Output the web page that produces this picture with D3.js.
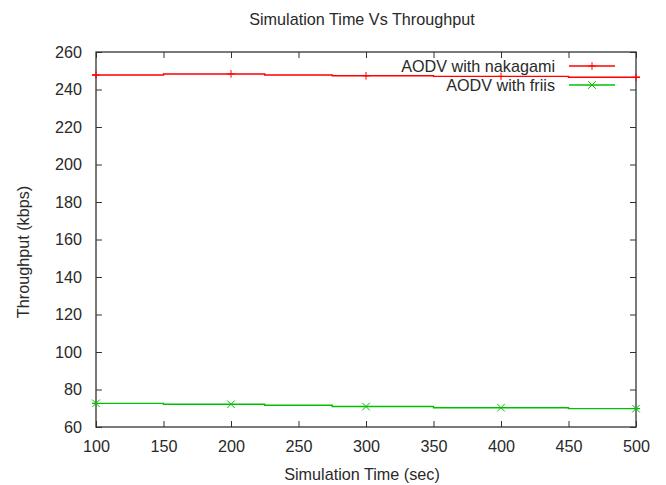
<!DOCTYPE html>
<html>
<head>
<meta charset="utf-8">
<script src="https://cdn.jsdelivr.net/npm/d3@7"></script>
<style>
  body { margin: 0; background: #fff; }
  text { font-family: "Liberation Sans", Arial, sans-serif; fill: #2a2a2a; }
</style>
</head>
<body>
<svg id="chart"></svg>
<script>
// data
const times = [100, 200, 250, 300, 400, 500];
const markerTimes = [100, 200, 300, 400, 500];
const nakagami = [247.7, 248.3, 247.7, 247.3, 247.0, 246.5];
const friis = [72.6, 72.1, 71.6, 70.9, 70.3, 69.8];
const xTicks = [100, 150, 200, 250, 300, 350, 400, 450, 500];
const yTicks = [60, 80, 100, 120, 140, 160, 180, 200, 220, 240, 260];
const seriesNames = ["AODV with nakagami", "AODV with friis"];
const seriesColors = ["#ff0000", "#00c000"];

const fontSize = "16.2px";

// canvas
const canvWidth = 666;
const canvHeight = 485;
const margin = { top: 52, right: 30, bottom: 58, left: 96 };
const width = canvWidth - margin.left - margin.right;
const height = canvHeight - margin.top - margin.bottom;

let svg = d3.select("#chart")
    .attr("width", canvWidth)
    .attr("height", canvHeight);

let g = svg.append("g")
    .attr("transform", "translate(" + margin.left + "," + margin.top + ")");

// scales
const x = d3.scaleLinear().domain([100, 500]).range([0, width]);
const y = d3.scaleLinear().domain([60, 260]).range([height, 0]);

// clip so the steps stop at the frame
svg.append("clipPath").attr("id", "clip")
    .append("rect").attr("x", -4).attr("y", 0).attr("width", width + 8).attr("height", height);

// axes with inward ticks, mirrored on top and right
function styleAxis(sel) {
    sel.select(".domain").remove();
    sel.selectAll("line").attr("stroke", "#333").attr("stroke-width", 1);
    sel.selectAll("text").style("font-size", fontSize).attr("fill", "#2a2a2a");
}
g.append("g").attr("transform", "translate(0," + height + ")")
    .call(d3.axisBottom(x).tickValues(xTicks).tickSizeInner(-6).tickPadding(13))
    .call(styleAxis);
g.append("g")
    .call(d3.axisLeft(y).tickValues(yTicks).tickSizeInner(-6).tickPadding(14))
    .call(styleAxis);
g.append("g")
    .call(d3.axisTop(x).tickValues(xTicks).tickSizeInner(-6).tickFormat(""))
    .call(styleAxis);
g.append("g").attr("transform", "translate(" + width + ",0)")
    .call(d3.axisRight(y).tickValues(yTicks).tickSizeInner(-6).tickFormat(""))
    .call(styleAxis);

// frame
g.append("rect")
    .attr("width", width).attr("height", height)
    .attr("fill", "none").attr("stroke", "#333").attr("stroke-width", 1.3);

// step lines (gnuplot histeps style)
const line = d3.line()
    .x(function (d) { return x(d[0]); })
    .y(function (d) { return y(d[1]); })
    .curve(d3.curveStep);

const allSeries = [nakagami, friis];
allSeries.forEach(function (vals, i) {
    const pts = times.map(function (t, j) { return [t, vals[j]]; });
    // extend half a step at both ends
    pts.unshift([times[0] - (times[1] - times[0]) / 2, vals[0]]);
    pts.push([times[times.length - 1] + (times[times.length - 1] - times[times.length - 2]) / 2, vals[vals.length - 1]]);
    g.append("path")
        .datum(pts)
        .attr("clip-path", "url(#clip)")
        .attr("fill", "none")
        .attr("stroke", seriesColors[i])
        .attr("stroke-width", 1.4)
        .attr("d", line);
});

// point markers
function marker(sel, type, cx, cy, color) {
    const s = 3.8;
    let p = type === 0
        ? "M" + (cx - s) + "," + cy + "H" + (cx + s) + "M" + cx + "," + (cy - s) + "V" + (cy + s)
        : "M" + (cx - s) + "," + (cy - s) + "L" + (cx + s) + "," + (cy + s) + "M" + (cx - s) + "," + (cy + s) + "L" + (cx + s) + "," + (cy - s);
    sel.append("path").attr("d", p).attr("stroke", color).attr("stroke-width", 1).attr("fill", "none");
}
allSeries.forEach(function (vals, i) {
    markerTimes.forEach(function (t) {
        const v = vals[times.indexOf(t)];
        marker(g, i, x(t), y(v), seriesColors[i]);
    });
});

// legend
seriesNames.forEach(function (name, i) {
    const ly = 66 + i * 19;
    svg.append("text")
        .attr("x", 555).attr("y", ly)
        .attr("dy", "0.35em")
        .attr("text-anchor", "end")
        .style("font-size", fontSize)
        .text(name);
    svg.append("line")
        .attr("x1", 569).attr("x2", 615).attr("y1", ly).attr("y2", ly)
        .attr("stroke", seriesColors[i]).attr("stroke-width", 1.4);
    marker(svg, i, 592, ly, seriesColors[i]);
});

// title and axis labels
svg.append("text")
    .attr("x", 362).attr("y", 19).attr("dy", "0.35em")
    .attr("text-anchor", "middle")
    .style("font-size", fontSize)
    .text("Simulation Time Vs Throughput");

svg.append("text")
    .attr("x", 362).attr("y", 474).attr("dy", "0.35em")
    .attr("text-anchor", "middle")
    .style("font-size", fontSize)
    .text("Simulation Time (sec)");

svg.append("text")
    .attr("transform", "translate(23,252) rotate(-90)")
    .attr("dy", "0.35em")
    .attr("text-anchor", "middle")
    .style("font-size", fontSize)
    .text("Throughput (kbps)");
</script>
</body>
</html>
